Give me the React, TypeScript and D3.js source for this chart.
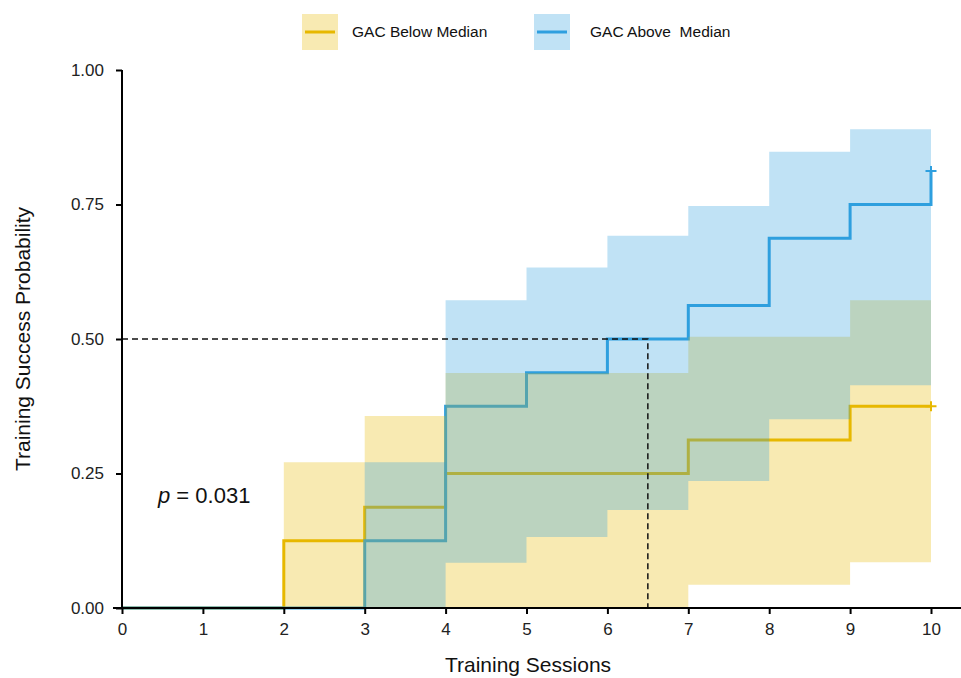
import { useEffect, useRef } from 'react';
import * as d3 from 'd3';

// Kaplan-Meier style step data (value holds from time[i] to time[i+1])
const belowTimes = [0, 2, 3, 4, 7, 9, 10];
const belowSurv = [0, 0.125, 0.1875, 0.25, 0.3125, 0.375, 0.375];
const belowUpper = [0, 0.271, 0.357, 0.437, 0.504, 0.572, 0.572];
const belowLower = [0, 0, 0, 0, 0.043, 0.085, 0.085];

const aboveTimes = [0, 3, 4, 5, 6, 7, 8, 9, 10];
const aboveSurv = [0, 0.125, 0.375, 0.4375, 0.5, 0.5625, 0.6875, 0.75, 0.8125];
const aboveUpper = [0, 0.271, 0.572, 0.633, 0.692, 0.747, 0.848, 0.89, 0.89];
const aboveLower = [0, 0, 0.084, 0.132, 0.182, 0.236, 0.351, 0.414, 0.414];

const xTicks = [0, 1, 2, 3, 4, 5, 6, 7, 8, 9, 10];
const yTicks = [0, 0.25, 0.5, 0.75, 1];
const seriesNames = ['GAC Below Median', 'GAC Above  Median'];
const colors = ['#E7B800', '#2E9FDF'];
const medianTime = 6.5;
const pText = '0.031';

const App = () => {
  const svgRef = useRef<SVGSVGElement>(null);

  useEffect(() => {
    const svg = d3.select(svgRef.current);
    svg.selectAll('*').remove();

    const x = d3.scaleLinear().domain([0, 10]).range([122, 931]);
    const y = d3.scaleLinear().domain([0, 1]).range([608, 70]);
    const font = 'Liberation Sans, Arial, sans-serif';

    const series = [
      { t: belowTimes, s: belowSurv, u: belowUpper, l: belowLower, c: colors[0] },
      { t: aboveTimes, s: aboveSurv, u: aboveUpper, l: aboveLower, c: colors[1] },
    ];

    const line = d3.line<[number, number]>()
      .x(d => x(d[0]))
      .y(d => y(d[1]))
      .curve(d3.curveStepAfter);

    const area = d3.area<[number, number, number]>()
      .x(d => x(d[0]))
      .y0(d => y(d[1]))
      .y1(d => y(d[2]))
      .curve(d3.curveStepAfter);

    // lines first, then ribbons on top (as in the reference)
    const gLines = svg.append('g');
    series.forEach(sr => {
      const pts = sr.t.map((t, i) => [t, sr.s[i]] as [number, number]);
      gLines.append('path')
        .attr('d', line(pts))
        .attr('fill', 'none')
        .attr('stroke', sr.c)
        .attr('stroke-width', 3);
    });

    const gBands = svg.append('g');
    series.forEach(sr => {
      const pts = sr.t.map((t, i) => [t, sr.l[i], sr.u[i]] as [number, number, number]);
      gBands.append('path')
        .attr('d', area(pts))
        .attr('fill', sr.c)
        .attr('fill-opacity', 0.3);
    });

    // censor marks at the end
    series.forEach(sr => {
      const n = sr.t.length - 1;
      const cx = x(sr.t[n]);
      const cy = y(sr.s[n]);
      svg.append('path')
        .attr('d', `M${cx - 5.5},${cy}H${cx + 5.5}M${cx},${cy - 5}V${cy + 5}`)
        .attr('stroke', sr.c)
        .attr('stroke-width', 2);
    });

    // median lines
    svg.append('path')
      .attr('d', `M${x(0)},${y(0.5)}H${x(medianTime)}V${y(0)}`)
      .attr('fill', 'none')
      .attr('stroke', '#111')
      .attr('stroke-width', 1.5)
      .attr('stroke-dasharray', '6,4');

    // axes
    const gx = svg.append('g')
      .attr('transform', `translate(0,${y(0)})`)
      .call(d3.axisBottom(x).tickValues(xTicks).tickSize(6).tickPadding(9).tickFormat(d3.format('d')));
    gx.select('.domain').attr('d', `M${x(0) - 9},0H961`).attr('stroke-width', 2);
    gx.selectAll('.tick line').attr('stroke-width', 2);
    gx.selectAll('.tick text').attr('font-size', 17).attr('font-family', font).attr('fill', '#222');

    const gy = svg.append('g')
      .attr('transform', `translate(${x(0)},0)`)
      .call(d3.axisLeft(y).tickValues(yTicks).tickSize(6).tickPadding(12).tickFormat(d3.format('.2f')));
    gy.select('.domain').attr('d', `M0,${y(1)}V${y(0)}`).attr('stroke-width', 2);
    gy.selectAll('.tick line').attr('stroke-width', 2);
    gy.selectAll('.tick text').attr('font-size', 17).attr('font-family', font).attr('fill', '#222');

    // axis titles
    svg.append('text')
      .attr('x', 528).attr('y', 672)
      .attr('text-anchor', 'middle')
      .attr('font-family', font).attr('font-size', 21).attr('fill', '#111')
      .text('Training Sessions');

    svg.append('text')
      .attr('transform', `translate(30,${339}) rotate(-90)`)
      .attr('text-anchor', 'middle')
      .attr('font-family', font).attr('font-size', 21).attr('fill', '#111')
      .text('Training Success Probability');

    // p value
    const pt = svg.append('text')
      .attr('x', 158).attr('y', 503)
      .attr('font-family', font).attr('font-size', 22).attr('fill', '#111');
    pt.append('tspan').attr('font-style', 'italic').text('p');
    pt.append('tspan').text(` = ${pText}`);

    // legend
    const legendX = [302, 534];
    const textX = [352, 590];
    seriesNames.forEach((name, i) => {
      svg.append('rect')
        .attr('x', legendX[i]).attr('y', 14)
        .attr('width', 36).attr('height', 36)
        .attr('fill', colors[i]).attr('fill-opacity', 0.3);
      svg.append('line')
        .attr('x1', legendX[i] + 3).attr('x2', legendX[i] + 33)
        .attr('y1', 32).attr('y2', 32)
        .attr('stroke', colors[i]).attr('stroke-width', 3);
      svg.append('text')
        .attr('x', textX[i]).attr('y', 37)
        .attr('font-family', font).attr('font-size', 15.5).attr('fill', '#111')
        .attr('xml:space', 'preserve')
        .style('white-space', 'pre')
        .text(name);
    });
  }, []);

  return (
    <svg
      ref={svgRef}
      width={961}
      height={678}
      style={{ position: 'absolute', left: 0, top: 0, background: '#fff' }}
    />
  );
};

export default App;
